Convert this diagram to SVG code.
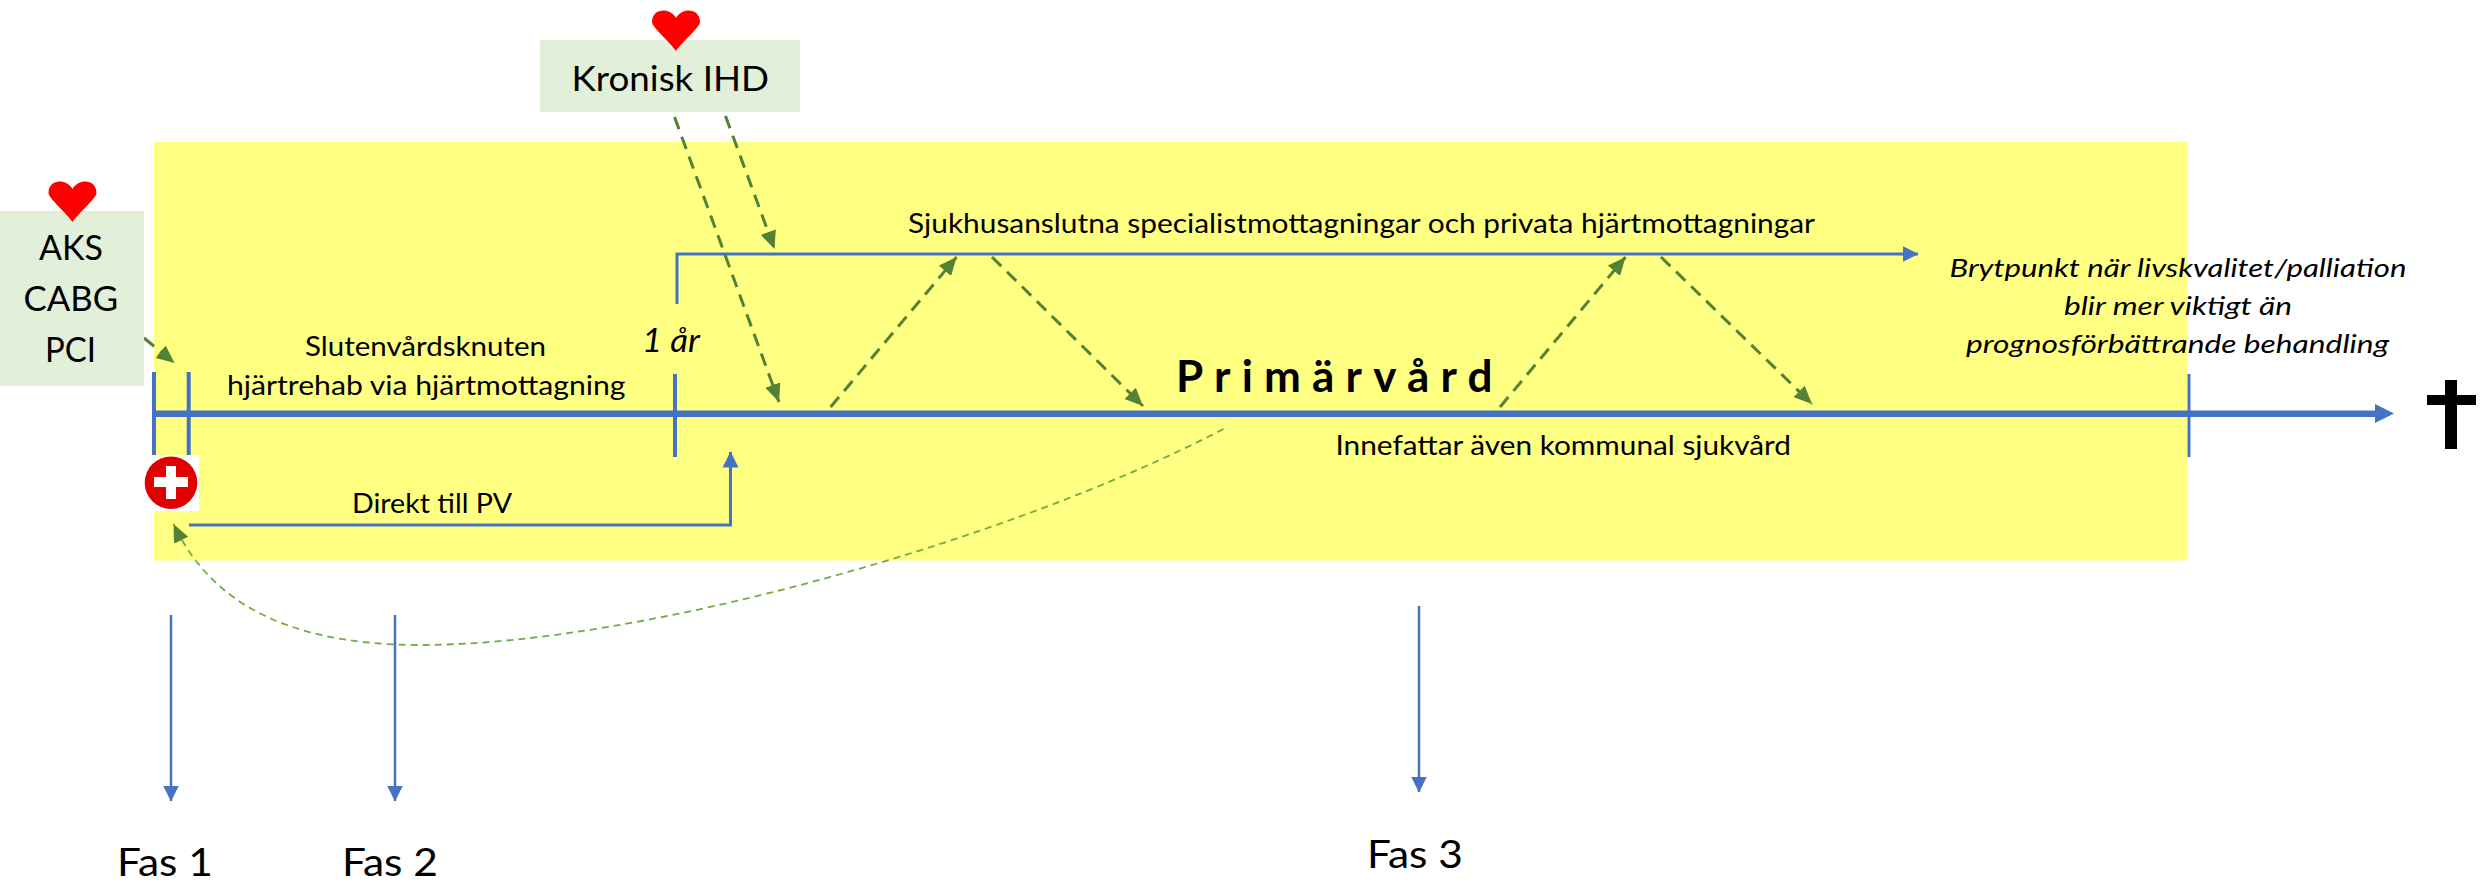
<svg xmlns="http://www.w3.org/2000/svg" width="2484" height="893" viewBox="0 0 2484 893">
<style>
text{font-family:"Lato","Open Sans","Liberation Sans",sans-serif;fill:#000;text-anchor:start}
.s{font-size:26px}.m{font-size:35px}.l{font-size:38px}.i{font-style:italic}
.blue{fill:none;stroke:#4472c4}
.dash{fill:none;stroke:#548235;stroke-width:3;stroke-dasharray:13 8}
.thin{fill:none;stroke:#70ad47;stroke-width:1.8;stroke-dasharray:7 5}
.box{fill:#e2efd9}
.heart{fill:#f00}
</style>
<defs>
<marker id="ag" markerUnits="userSpaceOnUse" markerWidth="20" markerHeight="16" refX="18" refY="8" orient="auto"><path d="M0 0L18 8L0 16Z" fill="#548235"/></marker>
<marker id="ab" markerUnits="userSpaceOnUse" markerWidth="16" markerHeight="16" refX="15.500" refY="8" orient="auto"><path d="M0 0L16 8L0 16Z" fill="#4472c4"/></marker>
<marker id="abl" markerUnits="userSpaceOnUse" markerWidth="19" markerHeight="18" refX="19" refY="9" orient="auto"><path d="M0 0L19 9L0 18Z" fill="#4472c4"/></marker>
<path id="h" d="M24 40C17 30 0 16 0 11C0 -3 18 -4 24 7C30 -4 48 -3 48 11C48 16 31 30 24 40Z"/>
</defs>
<rect id="band" x="154" y="142" width="2033" height="418.500" fill="#ffff81"/>
<g id="connectors">
<path class="blue" stroke-width="6.500" d="M154 413.700H2376"/><path d="M2375 404L2394 413.500L2375 423Z" fill="#4472c4"/>
<path class="blue" stroke-width="4" d="M154 372V455M188.700 372V455M675 374V457"/>
<path class="blue" stroke-width="3" d="M2189 374V457"/>
<path class="blue" stroke-width="3" marker-end="url(#ab)" d="M677 304V254H1918"/>
<path class="blue" stroke-width="3" marker-end="url(#ab)" d="M189 525H730.500V452"/>
<path class="blue" stroke-width="2.500" marker-end="url(#ab)" d="M171 615V801"/>
<path class="blue" stroke-width="2.500" marker-end="url(#ab)" d="M395 615V801"/>
<path class="blue" stroke-width="2.500" marker-end="url(#ab)" d="M1419 606V792"/>
<path class="dash" marker-end="url(#ag)" d="M674.500 117L779 402"/>
<path class="dash" marker-end="url(#ag)" d="M725.500 116L774.500 249"/>
<path class="dash" marker-end="url(#ag)" d="M830.600 407L956.600 257"/>
<path class="dash" marker-end="url(#ag)" d="M992 257L1143 406"/>
<path class="dash" marker-end="url(#ag)" d="M1500 407L1625.500 257"/>
<path class="dash" marker-end="url(#ag)" d="M1661 257L1812 404"/>
<path class="dash" marker-end="url(#ag)" d="M144 338L174.500 363"/>
<path class="thin" marker-end="url(#ag)" d="M1223.500 429C1010 540 640 645 420 645C270 645 205 590 173.500 524"/>
</g>
<g id="node-aks"><rect class="box" x="0" y="211" width="144" height="175"/><use href="#h" x="48.500" y="182" class="heart"/>
<text class="m" x="39" y="260" textLength="64" lengthAdjust="spacingAndGlyphs">AKS</text>
<text class="m" x="23.500" y="311" textLength="94.500" lengthAdjust="spacingAndGlyphs">CABG</text>
<text class="m" x="45" y="362" textLength="51" lengthAdjust="spacingAndGlyphs">PCI</text></g>
<g id="node-ihd"><rect class="box" x="540" y="40" width="260" height="72"/><use href="#h" x="652" y="11" class="heart"/>
<text class="m" x="571.500" y="90.700" textLength="197.500" lengthAdjust="spacingAndGlyphs">Kronisk IHD</text></g>
<g id="node-red"><rect x="145" y="455" width="54" height="56" fill="#fff"/><circle cx="171" cy="482.700" r="26.300" fill="#e00000"/><path fill="#fff" d="M166 466H176V477H188V487H176V499H166V487H154V477H166Z"/></g>
<g id="labels">
<text class="s" x="305" y="356" textLength="241" lengthAdjust="spacingAndGlyphs">Slutenvårdsknuten</text>
<text class="s" x="227" y="395" textLength="398.500" lengthAdjust="spacingAndGlyphs">hjärtrehab via hjärtmottagning</text>
<text class="s i" x="642" y="351.700" style="font-size:32px" textLength="58" lengthAdjust="spacingAndGlyphs">1 år</text>
<text class="s" x="352" y="512.700" textLength="160" lengthAdjust="spacingAndGlyphs">Direkt till PV</text>
<text class="s" x="908" y="233" textLength="907" lengthAdjust="spacingAndGlyphs">Sjukhusanslutna specialistmottagningar och privata hjärtmottagningar</text>
<text x="1176" y="391.700" style="font-size:44px;font-weight:700" textLength="316.500" lengthAdjust="spacing">Primärvård</text>
<text class="s" x="1335.500" y="455" textLength="455.500" lengthAdjust="spacingAndGlyphs">Innefattar även kommunal sjukvård</text>
<text class="s i" x="1949.500" y="276.700" textLength="457" lengthAdjust="spacingAndGlyphs">Brytpunkt när livskvalitet/palliation</text>
<text class="s i" x="2064" y="315" textLength="228" lengthAdjust="spacingAndGlyphs">blir mer viktigt än</text>
<text class="s i" x="1966" y="353" textLength="423" lengthAdjust="spacingAndGlyphs">prognosförbättrande behandling</text>
<text class="l" x="117" y="876" textLength="96" lengthAdjust="spacingAndGlyphs">Fas 1</text>
<text class="l" x="342" y="876" textLength="96" lengthAdjust="spacingAndGlyphs">Fas 2</text>
<text class="l" x="1367" y="868" textLength="96" lengthAdjust="spacingAndGlyphs">Fas 3</text>
</g>
<path id="cross" d="M2445 380H2457V395H2476V405H2457V449H2445V405H2427V395H2445Z" fill="#000"/>
</svg>
